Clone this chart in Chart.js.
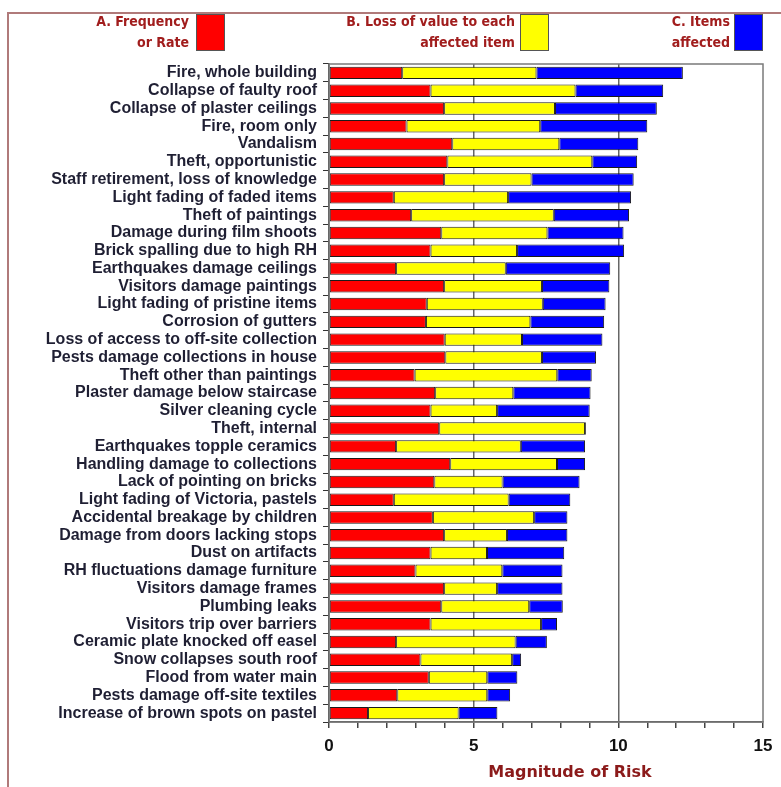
<!DOCTYPE html>
<html>
<head>
<meta charset="utf-8">
<script src="https://cdn.jsdelivr.net/npm/chart.js@4"></script>
<style>
  body { margin: 0; background: #fff; }
  .wrap { position: relative; width: 781px; height: 787px; overflow: hidden; }
  .frame { position: absolute; left: 7px; top: 12px; width: 800px; height: 800px;
           border: 2px solid #b07a7a; box-sizing: border-box; }
  canvas { position: absolute; left: 0; top: 0; }
  .leg { position: absolute; font: bold 14px "DejaVu Sans Condensed", "DejaVu Sans", sans-serif;
         color: #a11d1d; text-align: right; line-height: 21px; }
  .box { position: absolute; top: 14px; width: 29px; height: 37px; box-sizing: border-box;
         border: 1px solid #555; }
  .titulo { position: absolute; left: 470px; width: 200px; top: 762px; text-align: center;
            font: bold 16px "DejaVu Sans", sans-serif; color: #8b1a1a; }
</style>
</head>
<body>
<div class="wrap">
  <div class="frame"></div>
  <canvas id="grafico" width="781" height="787"></canvas>
  <div class="leg" style="right:592px; top:11px;">A. Frequency<br>or Rate</div>
  <div class="box" style="left:196px; background:#ff0000;"></div>
  <div class="leg" style="right:266px; top:11px;">B. Loss of value to each<br>affected item</div>
  <div class="box" style="left:520px; background:#ffff00;"></div>
  <div class="leg" style="right:51px; top:11px;">C. Items<br>affected</div>
  <div class="box" style="left:734px; background:#0000ff;"></div>
  <div class="titulo">Magnitude of Risk</div>
</div>
<script>
const riscos = [
  "Fire, whole building", "Collapse of faulty roof", "Collapse of plaster ceilings",
  "Fire, room only", "Vandalism", "Theft, opportunistic",
  "Staff retirement, loss of knowledge", "Light fading of faded items", "Theft of paintings",
  "Damage during film shoots", "Brick spalling due to high RH", "Earthquakes damage ceilings",
  "Visitors damage paintings", "Light fading of pristine items", "Corrosion of gutters",
  "Loss of access to off-site collection", "Pests damage collections in house",
  "Theft other than paintings", "Plaster damage below staircase", "Silver cleaning cycle",
  "Theft, internal", "Earthquakes topple ceramics", "Handling damage to collections",
  "Lack of pointing on bricks", "Light fading of Victoria, pastels",
  "Accidental breakage by children", "Damage from doors lacking stops", "Dust on artifacts",
  "RH fluctuations damage furniture", "Visitors damage frames", "Plumbing leaks",
  "Visitors trip over barriers", "Ceramic plate knocked off easel", "Snow collapses south roof",
  "Flood from water main", "Pests damage off-site textiles", "Increase of brown spots on pastel"
];

// A. Frequency or Rate
const frequencia = [2.53, 3.51, 3.98, 2.68, 4.26, 4.09, 3.98, 2.24, 2.84, 3.88,
  3.51, 2.32, 3.98, 3.38, 3.35, 4.00, 4.02, 2.96, 3.67, 3.51,
  3.81, 2.32, 4.19, 3.64, 2.24, 3.59, 3.98, 3.51, 2.99, 3.98,
  3.88, 3.51, 2.32, 3.16, 3.45, 2.36, 1.35];

// B. Loss of value to each affected item
const perdaValor = [4.64, 5.01, 3.83, 4.62, 3.70, 5.01, 3.02, 3.95, 4.93, 3.67,
  2.99, 3.79, 3.38, 4.01, 3.61, 2.67, 3.34, 4.93, 2.70, 2.30,
  5.04, 4.31, 3.69, 2.36, 3.97, 3.50, 2.17, 1.95, 3.00, 1.83,
  3.04, 3.82, 4.13, 3.17, 2.02, 3.11, 3.13];

// C. Items affected
const itensAfetados = [5.06, 3.03, 3.52, 3.70, 2.73, 1.55, 3.53, 4.25, 2.60, 2.63,
  3.70, 3.61, 2.33, 2.17, 2.55, 2.78, 1.87, 1.19, 2.67, 3.20,
  0.03, 2.22, 0.97, 2.66, 2.13, 1.15, 2.09, 2.67, 2.08, 2.26,
  1.16, 0.55, 1.08, 0.31, 1.04, 0.79, 1.34];

const ticksX = [0, 5, 10, 15];

// moldura cinza em volta da area do grafico
const moldura = {
  id: 'moldura',
  afterDraw(chart) {
    const a = chart.chartArea;
    const ctx = chart.ctx;
    ctx.save();
    ctx.strokeStyle = '#7a7a7a';
    ctx.lineWidth = 1.5;
    ctx.strokeRect(a.left, a.top, a.right - a.left, a.bottom - a.top);
    ctx.restore();
  }
};

function serie(label, data, cor) {
  return {
    label: label,
    data: data,
    backgroundColor: cor,
    borderColor: '#1a1a1a',
    borderWidth: 1,
    borderSkipped: false,
    categoryPercentage: 1,
    barPercentage: 0.7
  };
}

const ctx = document.getElementById('grafico').getContext('2d');
new Chart(ctx, {
  type: 'bar',
  data: {
    labels: riscos,
    datasets: [
      serie('A. Frequency or Rate', frequencia, '#ff0000'),
      serie('B. Loss of value to each affected item', perdaValor, '#ffff00'),
      serie('C. Items affected', itensAfetados, '#0000ff')
    ]
  },
  options: {
    indexAxis: 'y',
    responsive: false,
    animation: false,
    layout: { padding: { top: 64, right: 18, left: 0, bottom: 0 } },
    plugins: {
      legend: { display: false },
      tooltip: { enabled: false }
    },
    scales: {
      x: {
        stacked: true,
        min: 0,
        max: 15,
        afterFit: function (scale) { scale.height = 65; },
        ticks: {
          stepSize: 1,
          autoSkip: false,
          maxRotation: 0,
          padding: 8,
          color: '#111',
          font: { family: 'Liberation Sans, Arial', weight: 'bold', size: 17 },
          callback: function (value) {
            return ticksX.includes(value) ? value : '';
          }
        },
        grid: {
          color: function (c) {
            const v = c.tick ? c.tick.value : null;
            return (v === 5 || v === 10) ? '#666' : 'rgba(0,0,0,0)';
          },
          lineWidth: 1.5,
          tickColor: '#444',
          tickLength: 6
        },
        border: { color: '#444', width: 1.5 },
        title: { display: false }
      },
      y: {
        stacked: true,
        afterFit: function (scale) { scale.width = 329; },
        ticks: {
          autoSkip: false,
          padding: 6,
          color: '#1f1f33',
          font: { family: 'Liberation Sans, Arial', weight: 'bold', size: 16 }
        },
        grid: {
          drawOnChartArea: false,
          tickColor: '#333',
          tickLength: 6
        },
        border: { color: '#333', width: 1.5 }
      }
    }
  },
  plugins: [moldura]
});
</script>
</body>
</html>
